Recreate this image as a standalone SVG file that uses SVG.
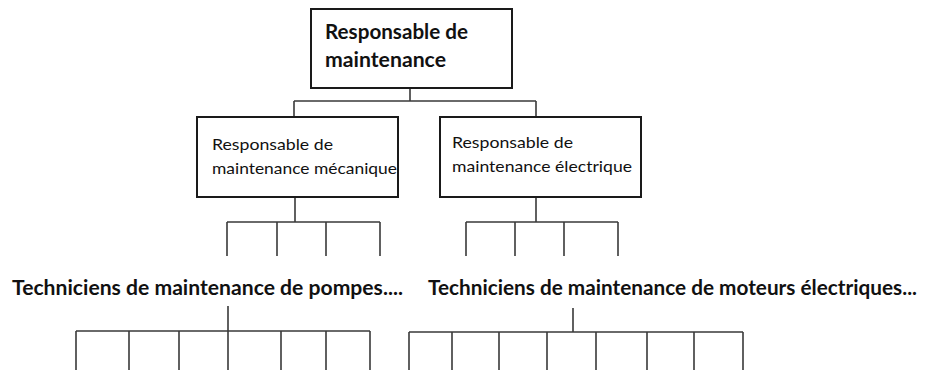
<svg xmlns="http://www.w3.org/2000/svg" width="933" height="370" viewBox="0 0 933 370">
<style>
.box{fill:#fff;stroke:#1a1a1a;stroke-width:2}
.ln{fill:none;stroke:#3a3a3a;stroke-width:1.6}
.tb{font-family:Lato,"Liberation Sans",sans-serif;font-weight:bold;font-size:20px;fill:#111}
.tm{font-family:Lato,"Liberation Sans",sans-serif;font-size:16px;fill:#111}
</style>
<rect width="933" height="370" fill="#fff"/>
<g id="connectors">
<path class="ln" d="M410 88V101M294 101H536M294 101V117M536 101V117"/>
<path class="ln" d="M295 197V222M227 222H380M227 222V256M277 222V256M326 222V256M380 222V256"/>
<path class="ln" d="M536 197V222M466 222H618M466 222V256M515 222V256M564 222V256M618 222V256"/>
<path class="ln" d="M228 306V331M76 331H370M76 331V370M129 331V370M179 331V370M228 331V370M281 331V370M326 331V370M370 331V370"/>
<path class="ln" d="M573 308V332M409 332H743M409 332V370M452 332V370M499 332V370M547 332V370M596 332V370M647 332V370M694 332V370M743 332V370"/>
</g>
<g id="n-top">
<rect class="box" x="311" y="9" width="201" height="79"/>
<text class="tb" x="325" y="39" textLength="143" lengthAdjust="spacingAndGlyphs">Responsable de</text>
<text class="tb" x="325" y="67" textLength="121" lengthAdjust="spacingAndGlyphs">maintenance</text>
</g>
<g id="n-meca">
<rect class="box" x="197" y="117" width="201" height="80"/>
<text class="tm" x="212" y="150" textLength="121" lengthAdjust="spacingAndGlyphs">Responsable de</text>
<text class="tm" x="212" y="174" textLength="185" lengthAdjust="spacingAndGlyphs">maintenance mécanique</text>
</g>
<g id="n-elec">
<rect class="box" x="440" y="117" width="201" height="80"/>
<text class="tm" x="452" y="148" textLength="121" lengthAdjust="spacingAndGlyphs">Responsable de</text>
<text class="tm" x="452" y="172" textLength="180" lengthAdjust="spacingAndGlyphs">maintenance électrique</text>
</g>
<g id="n-tech-pompes">
<text class="tb" x="12" y="295" textLength="391" lengthAdjust="spacingAndGlyphs">Techniciens de maintenance de pompes....</text>
</g>
<g id="n-tech-moteurs">
<text class="tb" x="428" y="295" textLength="489" lengthAdjust="spacingAndGlyphs">Techniciens de maintenance de moteurs électriques...</text>
</g>
</svg>
